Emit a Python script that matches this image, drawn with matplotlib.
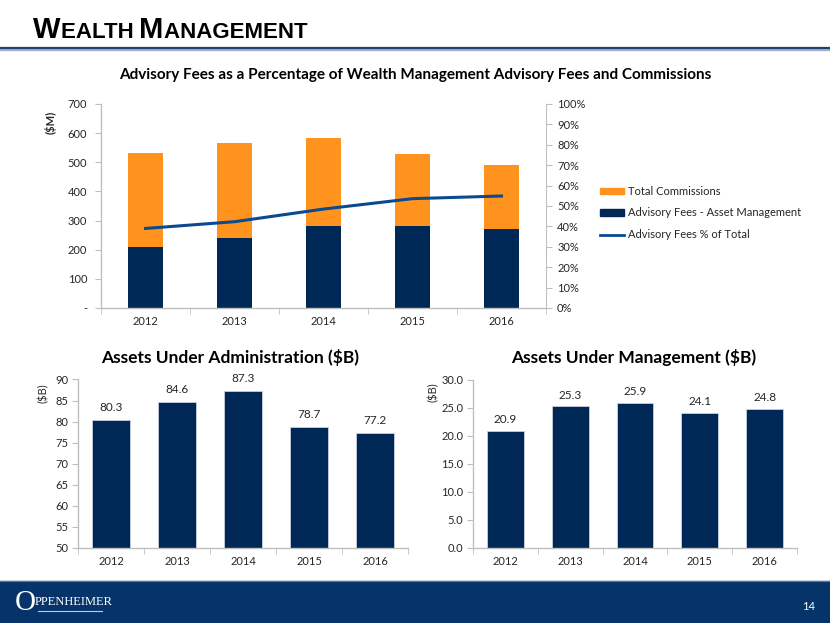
import matplotlib.pyplot as plt
import matplotlib.patches as mpatches
from matplotlib.lines import Line2D
from matplotlib.offsetbox import TextArea, HPacker, AnchoredOffsetbox
from matplotlib.ticker import FixedLocator, FuncFormatter, PercentFormatter

# ── Data ──────────────────────────────────────────────────────────────────────
years = ["2012", "2013", "2014", "2015", "2016"]
advisory_fees = [208, 240, 281, 282, 270]          # $M
total_commissions = [325, 326, 301, 246, 220]      # $M (stacked above advisory)
advisory_pct = [0.39, 0.423, 0.485, 0.536, 0.549]
aua = [80.3, 84.6, 87.3, 78.7, 77.2]               # $B
aum = [20.9, 25.3, 25.9, 24.1, 24.8]               # $B

NAVY = "#002856"
ORANGE = "#FF931E"
LINE_BLUE = "#0B4A8E"
GRID_GRAY = "#BFBFBF"
TXT = "#262626"
FOOTER = "#05336A"

FONT = ["Lato", "DejaVu Sans"]
plt.rcParams["font.family"] = FONT

fig = plt.figure(figsize=(8.3, 6.23), dpi=100)
fig.patch.set_facecolor("white")


def style_axis(ax):
    for s in ("top", "right"):
        ax.spines[s].set_visible(False)
    for s in ("left", "bottom"):
        ax.spines[s].set_color(GRID_GRAY)
        ax.spines[s].set_linewidth(1)
    ax.tick_params(axis="both", colors=GRID_GRAY, labelcolor=TXT, labelsize=8)
    ax.tick_params(axis="x", which="major", length=0, pad=6)
    ax.set_xticks(range(len(years)))
    ax.set_xticklabels(years)
    ax.xaxis.set_minor_locator(FixedLocator([i - 0.5 for i in range(len(years) + 1)]))
    ax.tick_params(axis="x", which="minor", length=4, color=GRID_GRAY)
    ax.set_xlim(-0.5, len(years) - 0.5)


# ── Header ────────────────────────────────────────────────────────────────────
hdr_parts = []
for word in ["WEALTH", "MANAGEMENT"]:
    hdr_parts.append(TextArea(word[0], textprops=dict(fontsize=21, fontweight="bold",
                                                      family="Liberation Sans", color="black")))
    hdr_parts.append(TextArea(word[1:] + " ", textprops=dict(fontsize=16, fontweight="bold",
                                                             family="Liberation Sans", color="black")))
hdr = HPacker(children=hdr_parts, align="baseline", pad=0, sep=0)
ab = AnchoredOffsetbox(loc="center left", child=hdr, frameon=False,
                       bbox_to_anchor=(33 / 830, 1 - 30 / 623), bbox_transform=fig.transFigure,
                       borderpad=0, pad=0)
fig.add_artist(ab)
fig.add_artist(Line2D([0, 1], [1 - 49 / 623] * 2, color="#A6B3C6", lw=2.5, transform=fig.transFigure))
fig.add_artist(Line2D([0, 1], [1 - 47.5 / 623] * 2, color="#1F3E73", lw=1.6, transform=fig.transFigure))

# ── Top chart ─────────────────────────────────────────────────────────────────
ax = fig.add_axes([101 / 830, 1 - 308 / 623, 445 / 830, 204 / 623])
style_axis(ax)
x = range(len(years))
ax.bar(x, advisory_fees, width=0.4, color=NAVY, zorder=2)
ax.bar(x, total_commissions, width=0.4, bottom=advisory_fees, color=ORANGE, zorder=2)
ax.set_ylim(0, 700)
ax.set_yticks(range(0, 701, 100))
ax.yaxis.set_major_formatter(FuncFormatter(lambda v, p: "-" if v == 0 else f"{int(v)}"))
ax.tick_params(axis="y", length=4, pad=6)
ax.set_ylabel("($M)", fontsize=8, fontweight="bold", color=TXT, labelpad=2)
ax.yaxis.set_label_coords(-0.1, 0.91)

ax2 = ax.twinx()
ax2.plot(x, advisory_pct, color=LINE_BLUE, lw=2.2, zorder=3)
ax2.set_ylim(0, 1)
ax2.set_yticks([i / 10 for i in range(11)])
ax2.yaxis.set_major_formatter(PercentFormatter(1.0, decimals=0))
for s in ("top", "left", "bottom"):
    ax2.spines[s].set_visible(False)
ax2.spines["right"].set_color(GRID_GRAY)
ax2.tick_params(axis="y", colors=GRID_GRAY, labelcolor=TXT, labelsize=8, length=4, pad=4)
ax2.set_xlim(-0.5, len(years) - 0.5)

fig.text(415 / 830, 1 - 75 / 623,
         "Advisory Fees as a Percentage of Wealth Management Advisory Fees and Commissions",
         ha="center", va="center", fontsize=11, fontweight="bold", color="black")

handles = [
    mpatches.Patch(color=ORANGE, label="Total Commissions"),
    mpatches.Patch(color=NAVY, label="Advisory Fees - Asset Management"),
    Line2D([0], [0], color=LINE_BLUE, lw=2, label="Advisory Fees % of Total"),
]
fig.legend(handles=handles, loc="center left", bbox_to_anchor=(590 / 830, 1 - 213 / 623),
           frameon=False, fontsize=8, handlelength=2.2, handleheight=0.5,
           handletextpad=0.3, labelspacing=0.95, labelcolor=TXT)

# ── Assets Under Administration ───────────────────────────────────────────────
axa = fig.add_axes([78 / 830, 1 - 548 / 623, 330 / 830, 168.5 / 623])
style_axis(axa)
bars = axa.bar(x, aua, width=0.57, color=NAVY, edgecolor="#C8D0DC", linewidth=0.6, zorder=2)
axa.set_ylim(50, 90)
axa.set_yticks(range(50, 91, 5))
axa.tick_params(axis="y", length=4, pad=3)
for b, v in zip(bars, aua):
    axa.annotate(f"{v:.1f}", (b.get_x() + b.get_width() / 2, v), xytext=(0, 5),
                 textcoords="offset points", ha="center", va="bottom", fontsize=8.5, color=TXT)
axa.set_ylabel("($B)", fontsize=8, color=TXT)
axa.yaxis.set_label_coords(-0.09, 0.92)
fig.text(230 / 830, 1 - 357 / 623, "Assets Under Administration ($B)",
         ha="center", va="center", fontsize=12.5, fontweight="bold", color="black")

# ── Assets Under Management ───────────────────────────────────────────────────
axm = fig.add_axes([473 / 830, 1 - 547.5 / 623, 324 / 830, 167.5 / 623])
style_axis(axm)
bars = axm.bar(x, aum, width=0.57, color=NAVY, edgecolor="#C8D0DC", linewidth=0.6, zorder=2)
axm.set_ylim(0, 30)
axm.set_yticks(range(0, 31, 5))
axm.yaxis.set_major_formatter(FuncFormatter(lambda v, p: f"{v:.1f}"))
axm.tick_params(axis="y", length=4, pad=3)
for b, v in zip(bars, aum):
    axm.annotate(f"{v:.1f}", (b.get_x() + b.get_width() / 2, v), xytext=(0, 4),
                 textcoords="offset points", ha="center", va="bottom", fontsize=8.5, color=TXT)
axm.set_ylabel("($B)", fontsize=8, color=TXT)
axm.yaxis.set_label_coords(-0.105, 0.93)
fig.text(634 / 830, 1 - 357 / 623, "Assets Under Management ($B)",
         ha="center", va="center", fontsize=12.5, fontweight="bold", color="black")

# ── Footer ────────────────────────────────────────────────────────────────────
fig.add_artist(mpatches.Rectangle((0, 0), 1, 42 / 623, transform=fig.transFigure,
                                  color=FOOTER, zorder=0))
fig.add_artist(Line2D([0, 1], [42 / 623] * 2, color="#5A7BA6", lw=0.8, transform=fig.transFigure))
fig.text(15 / 830, 1 - 603 / 623, "O", fontsize=21, family="Liberation Serif",
         color="white", ha="left", va="center")
fig.text(35 / 830, 1 - 602 / 623, "PPENHEIMER", fontsize=9, family="Liberation Serif",
         color="white", ha="left", va="center")
fig.add_artist(Line2D([38 / 830, 102 / 830], [1 - 611 / 623] * 2, color="#C0CCDD", lw=0.8,
                      transform=fig.transFigure))
fig.text(809 / 830, 1 - 607 / 623, "14", fontsize=8, color="white", ha="center", va="center")

fig.savefig("out.png", dpi=100, facecolor="white")
